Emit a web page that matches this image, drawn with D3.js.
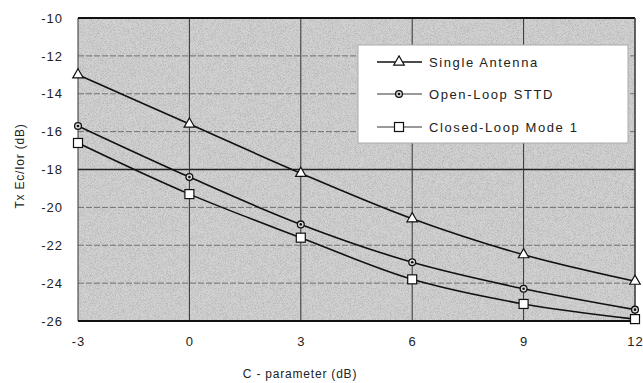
<!DOCTYPE html>
<html>
<head>
<meta charset="utf-8">
<script src="https://cdn.jsdelivr.net/npm/d3@7"></script>
<style>
  html, body { margin: 0; padding: 0; background: #fff; }
  svg { display: block; font-family: Arial, "Liberation Sans", sans-serif; }
</style>
</head>
<body>
<svg id="chart" width="643" height="383"></svg>
<script>
// C-parameter values (dB) on the x axis
const cParam = [-3, 0, 3, 6, 9, 12];
// Required transmit power (dB) per scheme
const singleAntenna = [-13.0, -15.6, -18.2, -20.6, -22.5, -23.9];
const openLoopSTTD  = [-15.7, -18.4, -20.9, -22.9, -24.3, -25.4];
const closedLoopM1  = [-16.6, -19.3, -21.6, -23.8, -25.1, -25.9];
const seriesNames = ["Single Antenna", "Open-Loop STTD", "Closed-Loop Mode 1"];
const yTicks = [-10, -12, -14, -16, -18, -20, -22, -24, -26];
const xTicks = [-3, 0, 3, 6, 9, 12];

const series = [
  { name: seriesNames[0], values: singleAntenna, marker: "triangle" },
  { name: seriesNames[1], values: openLoopSTTD,  marker: "circle" },
  { name: seriesNames[2], values: closedLoopM1,  marker: "square" }
];

const svg = d3.select("#chart");
const plot = { left: 78, right: 635, top: 18, bottom: 321 };

const x = d3.scaleLinear().domain([-3, 12]).range([plot.left, plot.right]);
const y = d3.scaleLinear().domain([-26, -10]).range([plot.bottom, plot.top]);

// fine grain over the grey plot background
const defs = svg.append("defs");
const f = defs.append("filter").attr("id", "grain").attr("x", 0).attr("y", 0).attr("width", 1).attr("height", 1);
f.append("feTurbulence").attr("type", "fractalNoise").attr("baseFrequency", 1.4).attr("numOctaves", 1).attr("seed", 7).attr("result", "n");
f.append("feColorMatrix").attr("in", "n").attr("type", "matrix")
  .attr("values", "0 0 0 0 0  0 0 0 0 0  0 0 0 0 0  0 0 0 -1.6 0.95").attr("result", "a");
f.append("feComposite").attr("in", "a").attr("in2", "SourceGraphic").attr("operator", "in");

svg.append("rect")
  .attr("x", plot.left).attr("y", plot.top)
  .attr("width", plot.right - plot.left).attr("height", plot.bottom - plot.top)
  .attr("fill", "#d2d2d2");
svg.append("rect")
  .attr("x", plot.left).attr("y", plot.top)
  .attr("width", plot.right - plot.left).attr("height", plot.bottom - plot.top)
  .attr("fill", "#888").attr("filter", "url(#grain)").attr("opacity", 0.22);

// gridlines
const grid = svg.append("g");
grid.selectAll("line.h").data(yTicks).join("line")
  .attr("x1", plot.left).attr("x2", plot.right)
  .attr("y1", d => y(d)).attr("y2", d => y(d))
  .attr("stroke", d => (d === -18 ? "#222" : "#666"))
  .attr("stroke-width", d => (d === -18 ? 1.3 : 0.9))
  .attr("stroke-dasharray", d => (d === -18 || d === -10 || d === -26 ? null : "6,2"));
grid.selectAll("line.v").data(xTicks).join("line")
  .attr("y1", plot.top).attr("y2", plot.bottom)
  .attr("x1", d => x(d)).attr("x2", d => x(d))
  .attr("stroke", "#333").attr("stroke-width", 1);

// frame
svg.append("line").attr("x1", plot.left).attr("x2", plot.right).attr("y1", plot.top).attr("y2", plot.top)
  .attr("stroke", "#111").attr("stroke-width", 2);
svg.append("line").attr("x1", plot.left).attr("x2", plot.right).attr("y1", plot.bottom).attr("y2", plot.bottom)
  .attr("stroke", "#111").attr("stroke-width", 2);
svg.append("line").attr("x1", plot.right).attr("x2", plot.right).attr("y1", plot.top).attr("y2", plot.bottom)
  .attr("stroke", "#444").attr("stroke-width", 1.2);

// axes (labels only), plain hyphen for negatives
const fmt = d => String(d);
const yAxis = d3.axisLeft(y).tickValues(yTicks).tickSize(0).tickPadding(0).tickFormat(fmt);
const ya = svg.append("g").attr("transform", `translate(63,0)`).call(yAxis);
ya.select(".domain").remove();
ya.selectAll("text").attr("font-size", 13).attr("fill", "#222").attr("letter-spacing", 1);

const xAxis = d3.axisBottom(x).tickValues(xTicks).tickSize(0).tickPadding(0).tickFormat(fmt);
const xa = svg.append("g").attr("transform", `translate(0,337)`).call(xAxis);
xa.select(".domain").remove();
xa.selectAll("text").attr("font-size", 13).attr("fill", "#222").attr("letter-spacing", 1);

// axis titles
svg.append("text").attr("x", 300).attr("y", 378).attr("text-anchor", "middle")
  .attr("font-size", 12).attr("fill", "#222").attr("letter-spacing", 0.8)
  .text("C - parameter (dB)");
svg.append("text").attr("transform", "translate(24,166) rotate(-90)").attr("text-anchor", "middle")
  .attr("font-size", 12).attr("fill", "#222").attr("letter-spacing", 0.8)
  .text("Tx Ec/Ior (dB)");

// series lines
const line = d3.line().x(d => x(d[0])).y(d => y(d[1])).curve(d3.curveCatmullRom.alpha(0.5));

function drawMarker(g, type, cx, cy) {
  if (type === "triangle") {
    g.append("path").attr("d", d3.symbol(d3.symbolTriangle, 48)())
      .attr("transform", `translate(${cx},${cy})`)
      .attr("fill", "#fff").attr("stroke", "#111").attr("stroke-width", 1.2);
  } else if (type === "circle") {
    g.append("circle").attr("cx", cx).attr("cy", cy).attr("r", 3.4)
      .attr("fill", "#ddd").attr("stroke", "#111").attr("stroke-width", 1.3);
    g.append("circle").attr("cx", cx).attr("cy", cy).attr("r", 1.3).attr("fill", "#111");
  } else {
    g.append("rect").attr("x", cx - 4.5).attr("y", cy - 4.5).attr("width", 9).attr("height", 9)
      .attr("fill", "#fff").attr("stroke", "#111").attr("stroke-width", 1.2);
  }
}

series.forEach(s => {
  const pts = cParam.map((c, i) => [c, s.values[i]]);
  svg.append("path").datum(pts).attr("d", line)
    .attr("fill", "none").attr("stroke", "#111").attr("stroke-width", 1.6);
  const g = svg.append("g");
  pts.forEach(p => drawMarker(g, s.marker, x(p[0]), y(p[1])));
});

// legend
const lg = svg.append("g");
lg.append("rect").attr("x", 358).attr("y", 45).attr("width", 270).attr("height", 98)
  .attr("fill", "#fff").attr("stroke", "#aaa").attr("stroke-width", 1);
const rowY = [62, 94, 127];
series.forEach((s, i) => {
  const ry = rowY[i];
  lg.append("line").attr("x1", 377).attr("x2", 422).attr("y1", ry).attr("y2", ry)
    .attr("stroke", i === 0 ? "#111" : "#777").attr("stroke-width", 1.6);
  drawMarker(lg, s.marker, 399, ry);
  lg.append("text").attr("x", 429).attr("y", ry + 5)
    .attr("font-size", 13).attr("fill", "#222").attr("letter-spacing", 1.6)
    .text(s.name);
});
</script>
</body>
</html>
